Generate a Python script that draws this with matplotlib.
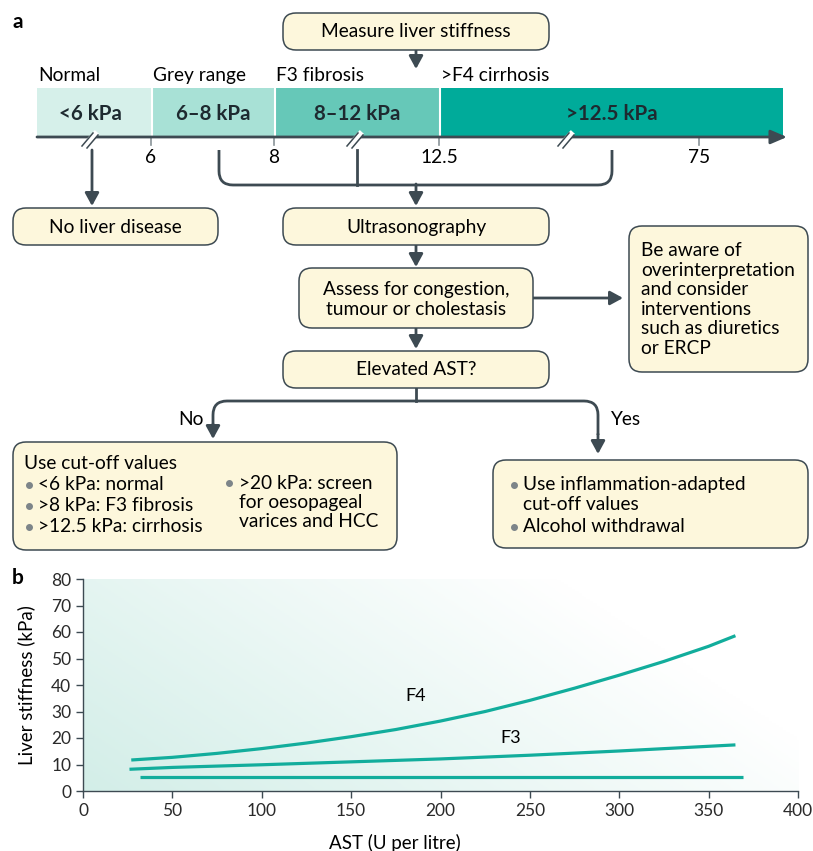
import numpy as np
import matplotlib
matplotlib.use('Agg')
import matplotlib.pyplot as plt
from matplotlib.patches import FancyBboxPatch, Rectangle, PathPatch
from matplotlib.path import Path
from matplotlib.colors import LinearSegmentedColormap

plt.rcParams['font.family'] = ['Lato', 'DejaVu Sans']

# ---- data: panel a ----
stage_names = ['Normal', 'Grey range', 'F3 fibrosis', '>F4 cirrhosis']
range_labels = ['<6 kPa', '6–8 kPa', '8–12 kPa', '>12.5 kPa']
range_colors = ['#d6f0ea', '#a8e1d6', '#66c8b8', '#00ab9a']
scale_ticks = ['6', '8', '12.5', '75']

# ---- data: panel b ----
ast_f4 = [27, 50, 75, 100, 125, 150, 175, 200, 225, 250, 275, 300, 325, 350, 365]
stiff_f4 = [11.7, 12.7, 14.2, 16.0, 18.1, 20.5, 23.2, 26.4, 30.0, 34.2, 38.8, 43.7, 48.9, 54.6, 58.6]
ast_f3 = [26, 50, 100, 150, 200, 250, 300, 365]
stiff_f3 = [8.2, 8.9, 9.9, 11.0, 12.1, 13.5, 15.1, 17.4]
ast_base = [32, 369]
stiff_base = [5.2, 5.2]

DARK = '#3d4a52'
CREAM = '#fdf7dc'
TEAL = '#12ad9c'
FS = 13.8
TY = 1.5  # small downward nudge so caps sit centred like the original

fig = plt.figure(figsize=(8.13, 8.51), dpi=100)
ax = fig.add_axes([0, 0, 1, 1])
ax.set_xlim(0, 813)
ax.set_ylim(851, 0)
ax.axis('off')


def box(x0, y0, x1, y1):
    p = FancyBboxPatch((x0, y0), x1 - x0, y1 - y0,
                       boxstyle='round,pad=0,rounding_size=13',
                       fc=CREAM, ec=DARK, lw=1.1, zorder=3)
    ax.add_patch(p)


def txt(x, y, s, **kw):
    kw.setdefault('fontsize', FS)
    kw.setdefault('va', 'center')
    kw.setdefault('zorder', 4)
    ax.text(x, y + TY, s, **kw)


def rline(pts, r=12, lw=2.0):
    verts = [pts[0]]
    codes = [Path.MOVETO]
    for i in range(1, len(pts) - 1):
        p0, p1, p2 = np.array(pts[i - 1], float), np.array(pts[i], float), np.array(pts[i + 1], float)
        d1 = (p1 - p0) / np.linalg.norm(p1 - p0)
        d2 = (p2 - p1) / np.linalg.norm(p2 - p1)
        verts += [tuple(p1 - r * d1), tuple(p1), tuple(p1 + r * d2)]
        codes += [Path.LINETO, Path.CURVE3, Path.CURVE3]
    verts.append(pts[-1])
    codes.append(Path.LINETO)
    ax.add_patch(PathPatch(Path(verts, codes), fill=False, ec=DARK, lw=lw,
                           capstyle='butt', joinstyle='round', zorder=2))


def arrow(x0, y0, x1, y1, lw=2.0):
    ax.annotate('', xy=(x1, y1), xytext=(x0, y0),
                arrowprops=dict(arrowstyle='-|>,head_length=0.55,head_width=0.3',
                                color=DARK, lw=lw, shrinkA=0, shrinkB=0,
                                mutation_scale=14), zorder=2)


txt(12, 21, 'a', fontsize=15, fontweight='bold', ha='left')

# top box
box(283, 13, 549, 50)
txt(416, 30, 'Measure liver stiffness', ha='center')
arrow(416, 50, 416, 69)

# stiffness scale bar
seg_edges = [37, 152, 275, 440, 783]
for i in range(4):
    ax.add_patch(Rectangle((seg_edges[i], 88), seg_edges[i + 1] - seg_edges[i], 49,
                           fc=range_colors[i], ec='none', zorder=1))
    if i > 0:
        ax.plot([seg_edges[i], seg_edges[i]], [88, 137], color='white', lw=1.5, zorder=1.5)
    txt(seg_edges[i] + 1, 74, stage_names[i], ha='left')
label_x = [90, 213, 357, 612]
for lx, lab in zip(label_x, range_labels):
    txt(lx, 113, lab, fontsize=14.8, fontweight='bold', ha='center', color='#1e2a30')
ax.annotate('', xy=(787, 137), xytext=(37, 137),
            arrowprops=dict(arrowstyle='-|>,head_length=0.7,head_width=0.3', color=DARK,
                            lw=2.0, shrinkA=0, shrinkB=0, mutation_scale=14), zorder=3)
tick_x = [151, 274, 439, 699]
for tx, tl in zip(tick_x, scale_ticks):
    ax.plot([tx, tx], [137, 145], color='#8a9498', lw=1.2, zorder=2)
    txt(tx, 156, tl, ha='center')
# axis breaks
for bx in [92, 357, 568]:
    ax.plot([bx - 9, bx + 3], [147, 134], color='white', lw=4, zorder=4)
    ax.plot([bx - 10, bx + 1], [146, 133], color=DARK, lw=1.1, zorder=5)
    ax.plot([bx - 5, bx + 6], [148, 135], color=DARK, lw=1.1, zorder=5)

# left branch
arrow(92, 150, 92, 206)
box(13, 208, 218, 245)
txt(115, 226, 'No liver disease', ha='center')

# bracket
rline([(219, 150), (219, 185), (612, 185), (612, 150)], r=14)
ax.plot([357, 357], [150, 185], color=DARK, lw=2.0)
arrow(416, 184, 416, 206)

box(283, 208, 549, 245)
txt(416, 226, 'Ultrasonography', ha='center')
arrow(416, 245, 416, 267)

box(299, 268, 533, 328)
txt(416, 298, 'Assess for congestion,\ntumour or cholestasis', ha='center', linespacing=1.25)
arrow(533, 298, 623, 298)

box(629, 226, 808, 372)
txt(641, 298, 'Be aware of\noverinterpretation\nand consider\ninterventions\nsuch as diuretics\nor ERCP',
    ha='left', linespacing=1.19)

arrow(416, 328, 416, 349)
box(283, 351, 549, 388)
txt(416, 368, 'Elevated AST?', ha='center')

# yes / no branches
ax.plot([416, 416], [388, 401], color=DARK, lw=2.0)
rline([(416, 401), (213, 401), (213, 425)], r=14)
arrow(213, 424, 213, 439)
rline([(416, 401), (598, 401), (598, 435)], r=14)
arrow(598, 434, 598, 454)
txt(191, 418, 'No', ha='center')
txt(625, 418, 'Yes', ha='center')

# No box
box(13, 442, 397, 550)
txt(24, 462, 'Use cut-off values', ha='left')
left_items = ['<6 kPa: normal', '>8 kPa: F3 fibrosis', '>12.5 kPa: cirrhosis']
for i, s in enumerate(left_items):
    y = 483 + 21 * i
    ax.plot(29, y + 2, 'o', ms=4, color='#7d8589', zorder=4)
    txt(38, y, s, ha='left')
ax.plot(229, 483, 'o', ms=4, color='#7d8589', zorder=4)
txt(239, 501, '>20 kPa: screen\nfor oesopageal\nvarices and HCC', ha='left', linespacing=1.13)

# Yes box
box(493, 460, 808, 548)
right_items = ['Use inflammation-adapted\ncut-off values', 'Alcohol withdrawal']
ax.plot(514, 485, 'o', ms=4, color='#7d8589', zorder=4)
txt(523, 493, right_items[0], ha='left', linespacing=1.2)
ax.plot(514, 527, 'o', ms=4, color='#7d8589', zorder=4)
txt(523, 525, right_items[1], ha='left')

# ---- panel b ----
txt(12, 577, 'b', fontsize=15, fontweight='bold', ha='left')
txt(395, 841, 'AST (U per litre)', fontsize=13.5, ha='center')
ax.text(26, 685, 'Liver stiffness (kPa)', fontsize=13.5, ha='center', va='center', rotation=90)
bx = fig.add_axes([83 / 813, 60 / 851, 715 / 813, 212 / 851])
gx, gy = np.meshgrid(np.linspace(0, 1, 200), np.linspace(0, 1, 200))
grad = np.clip(1 - (0.9 * gx + 0.4 * gy), 0, 1) ** 1.0
cmap = LinearSegmentedColormap.from_list('g', ['#ffffff', '#d3eee8'])
bx.imshow(grad, extent=[0, 400, 0, 80], origin='lower', aspect='auto', cmap=cmap,
          vmin=0, vmax=1, zorder=0)
bx.plot(ast_f4, stiff_f4, color=TEAL, lw=2.3, solid_capstyle='butt', zorder=2)
bx.plot(ast_f3, stiff_f3, color=TEAL, lw=2.3, solid_capstyle='butt', zorder=2)
bx.plot(ast_base, stiff_base, color=TEAL, lw=2.3, solid_capstyle='butt', zorder=2)
bx.text(186, 36, 'F4', fontsize=13, ha='center', va='center')
bx.text(239, 20, 'F3', fontsize=13, ha='center', va='center')
bx.set_xlim(0, 400)
bx.set_ylim(0, 80)
bx.set_xticks(np.arange(0, 401, 50))
bx.set_yticks(np.arange(0, 81, 10))
for s in ['top', 'right']:
    bx.spines[s].set_visible(False)
for s in ['left', 'bottom']:
    bx.spines[s].set_color(DARK)
    bx.spines[s].set_linewidth(1.0)
bx.tick_params(colors=DARK, labelcolor='#2a2a2a', labelsize=12.5, length=5, width=1.0)

fig.savefig('out.png', dpi=100)
